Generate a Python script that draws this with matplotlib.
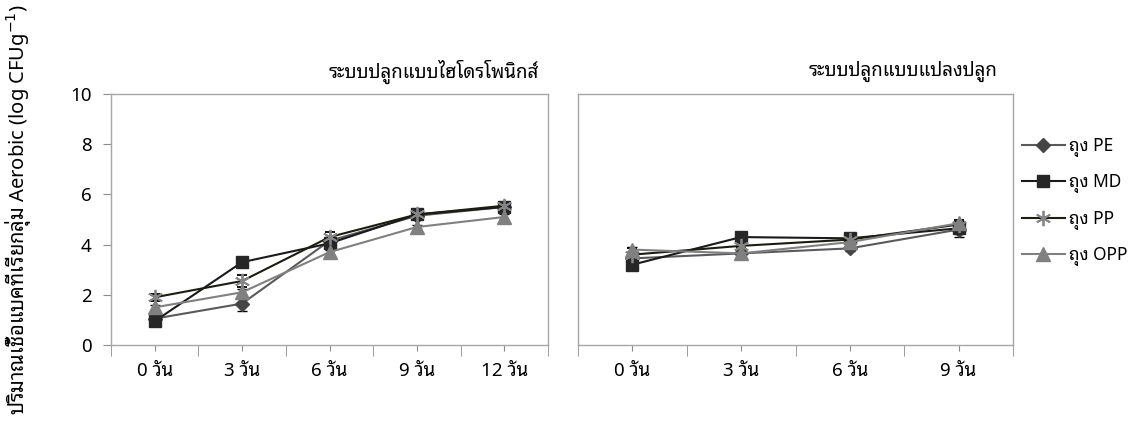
import matplotlib
matplotlib.use("Agg")
import matplotlib.pyplot as plt
from matplotlib.ticker import FixedLocator

plt.rcParams['font.family'] = ['Noto Sans Thai Looped', 'DejaVu Sans']

# ค่าเฉลี่ย log CFU/g ของแต่ละถุง
days_hydro = ['0 วัน', '3 วัน', '6 วัน', '9 วัน', '12 วัน']
days_soil = ['0 วัน', '3 วัน', '6 วัน', '9 วัน']

bags = ['ถุง PE', 'ถุง MD', 'ถุง PP', 'ถุง OPP']

hydro_pe = [1.05, 1.65, 4.15, 5.15, 5.5]
hydro_md = [0.95, 3.3, 4.05, 5.2, 5.5]
hydro_pp = [1.9, 2.55, 4.3, 5.2, 5.55]
hydro_opp = [1.5, 2.1, 3.7, 4.7, 5.1]
hydro_pe_err = [0.1, 0.3, 0.15, 0.1, 0.1]
hydro_md_err = [0.1, 0.1, 0.15, 0.1, 0.1]
hydro_pp_err = [0.15, 0.25, 0.2, 0.1, 0.1]
hydro_opp_err = [0.1, 0.15, 0.1, 0.1, 0.1]

soil_pe = [3.45, 3.65, 3.85, 4.6]
soil_md = [3.2, 4.3, 4.25, 4.65]
soil_pp = [3.6, 3.95, 4.2, 4.8]
soil_opp = [3.8, 3.65, 4.1, 4.85]
soil_pe_err = [0.1, 0.1, 0.1, 0.3]
soil_md_err = [0.1, 0.1, 0.15, 0.1]
soil_pp_err = [0.25, 0.1, 0.2, 0.2]
soil_opp_err = [0.1, 0.1, 0.1, 0.1]

styles = [
    dict(color='#5a5a5a', marker='D', markersize=7, markerfacecolor='#454545', markeredgecolor='#454545'),
    dict(color='#1a1a1a', marker='s', markersize=9, markerfacecolor='#262626', markeredgecolor='#262626'),
    dict(color='#1c1c10', marker=(6, 2, 0), markersize=11, markeredgewidth=1.3,
         markerfacecolor='#858585', markeredgecolor='#858585'),
    dict(color='#808080', marker='^', markersize=10, markerfacecolor='#808080', markeredgecolor='#808080'),
]

fig = plt.figure(figsize=(11.45, 4.25), dpi=100)
ax1 = fig.add_axes([111 / 1145, 1 - 345 / 425, 437 / 1145, 251 / 425])
ax2 = fig.add_axes([578 / 1145, 1 - 345 / 425, 435 / 1145, 251 / 425])


def draw_panel(ax, labels, series, errors, title, title_x):
    x = list(range(len(labels)))
    handles = []
    for vals, err, st in zip(series, errors, styles):
        h = ax.errorbar(x, vals, yerr=err, linewidth=1.5, capsize=3.5, ecolor='black',
                        elinewidth=1.0, capthick=1.0, **st)
        handles.append(h[0])
    ax.set_xlim(-0.5, len(labels) - 0.5)
    ax.set_ylim(0, 10)
    ax.set_xticks(x)
    ax.set_xticklabels(labels, fontsize=13.5)
    ax.xaxis.set_minor_locator(FixedLocator([i - 0.5 for i in range(len(labels) + 1)]))
    ax.tick_params(axis='x', which='major', length=4, color='#8c8c8c', pad=8)
    ax.tick_params(axis='x', which='minor', length=8, color='#8c8c8c')
    for s in ax.spines.values():
        s.set_color('#a6a6a6')
        s.set_linewidth(1.0)
    ax.text(title_x, 1.09, title, transform=ax.transAxes, ha='right', va='center', fontsize=13.5)
    return handles


handles = draw_panel(ax1, days_hydro, [hydro_pe, hydro_md, hydro_pp, hydro_opp],
                     [hydro_pe_err, hydro_md_err, hydro_pp_err, hydro_opp_err],
                     'ระบบปลูกแบบไฮโดรโพนิกส์', 0.98)
ax1.set_yticks([0, 2, 4, 6, 8, 10])
ax1.tick_params(axis='y', length=6, color='#8c8c8c', labelsize=13.5, pad=8)

draw_panel(ax2, days_soil, [soil_pe, soil_md, soil_pp, soil_opp],
           [soil_pe_err, soil_md_err, soil_pp_err, soil_opp_err],
           'ระบบปลูกแบบแปลงปลูก', 0.965)
ax2.set_yticks([])

fig.legend(handles, bags, loc='upper left', bbox_to_anchor=(1013 / 1145, 1 - 128 / 425),
           frameon=False, fontsize=12.5, labelspacing=0.95, handlelength=2.5,
           handletextpad=0.25, borderaxespad=0.2, borderpad=0.3)

fig.text(0.016, 0.99, 'ปริมาณเชื้อแบคทีเรียกลุ่ม Aerobic (log CFUg$^{-1}$)',
         rotation=90, ha='center', va='top', fontsize=14.5)

fig.savefig('out.png', dpi=100)
